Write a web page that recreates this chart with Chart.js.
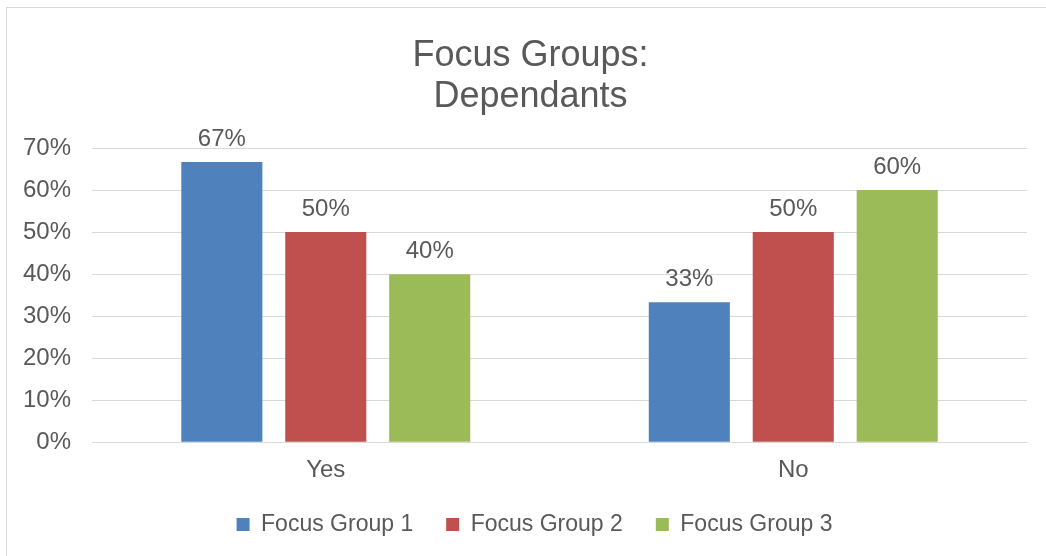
<!DOCTYPE html>
<html>
<head>
<meta charset="utf-8">
<script src="https://cdn.jsdelivr.net/npm/chart.js@4"></script>
<style>
  html, body { margin: 0; padding: 0; background: #fff; }
  #wrap { position: relative; width: 1046px; height: 556px; overflow: hidden; }
  #frame { position: absolute; left: 6px; top: 7px; width: 1100px; height: 600px; border: 1px solid #d9d9d9; box-sizing: border-box; }
  canvas { position: absolute; left: 0; top: 0; }
</style>
</head>
<body>
<div id="wrap">
  <div id="frame"></div>
  <canvas id="chart" width="1046" height="556"></canvas>
</div>
<script>
const categories = ['Yes', 'No'];
const seriesNames = ['Focus Group 1', 'Focus Group 2', 'Focus Group 3'];
const group1 = [0.667, 0.333];
const group2 = [0.50, 0.50];
const group3 = [0.40, 0.60];
const colors = ['#4F81BD', '#C0504D', '#9BBB59'];

const textColor = '#595959';
const fontFamily = '"Liberation Sans", Arial, sans-serif';

// etiquetas de valor encima de cada barra
const valueLabels = {
  id: 'valueLabels',
  afterDatasetsDraw(chart) {
    const ctx = chart.ctx;
    ctx.save();
    ctx.font = '24px ' + fontFamily;
    ctx.fillStyle = textColor;
    ctx.textAlign = 'center';
    ctx.textBaseline = 'alphabetic';
    chart.data.datasets.forEach((ds, i) => {
      chart.getDatasetMeta(i).data.forEach((bar, j) => {
        ctx.fillText(Math.round(ds.data[j] * 100) + '%', bar.x, bar.y - 16);
      });
    });
    ctx.restore();
  }
};

// centra título y leyenda como en el original (un poco a la derecha)
const shiftBlocks = {
  id: 'shiftBlocks',
  afterLayout(chart) {
    if (chart.titleBlock) { chart.titleBlock.left += 16; chart.titleBlock.right += 16; }
    if (chart.legend) { chart.legend.left += 20; chart.legend.right += 20; }
  }
};

new Chart(document.getElementById('chart').getContext('2d'), {
  type: 'bar',
  data: {
    labels: categories,
    datasets: [group1, group2, group3].map((d, i) => ({
      label: seriesNames[i],
      data: d,
      backgroundColor: colors[i],
      borderWidth: 0,
      categoryPercentage: 0.667,
      barPercentage: 0.78
    }))
  },
  options: {
    responsive: false,
    animation: false,
    layout: { padding: { left: 2, right: 19, top: 36, bottom: 10 } },
    scales: {
      y: {
        min: 0,
        max: 0.7,
        ticks: {
          stepSize: 0.1,
          color: textColor,
          font: { family: fontFamily, size: 24 },
          padding: 21,
          callback: v => Math.round(v * 100) + '%'
        },
        grid: { color: '#d9d9d9', lineWidth: 1, drawTicks: false },
        border: { display: false }
      },
      x: {
        ticks: {
          color: textColor,
          font: { family: fontFamily, size: 24 },
          padding: 14
        },
        grid: { display: false, drawTicks: false },
        border: { display: false },
        afterFit(scale) { scale.height -= 19; }
      }
    },
    plugins: {
      title: {
        display: true,
        text: ['Focus Groups:', 'Dependants'],
        color: textColor,
        font: { family: fontFamily, size: 36, weight: 'normal', lineHeight: 1.14 },
        padding: { top: 0, bottom: 30 }
      },
      legend: {
        position: 'bottom',
        labels: {
          color: textColor,
          font: { family: fontFamily, size: 23 },
          boxWidth: 13,
          boxHeight: 13,
          padding: 33
        }
      },
      tooltip: { enabled: false }
    }
  },
  plugins: [valueLabels, shiftBlocks]
});
</script>
</body>
</html>
